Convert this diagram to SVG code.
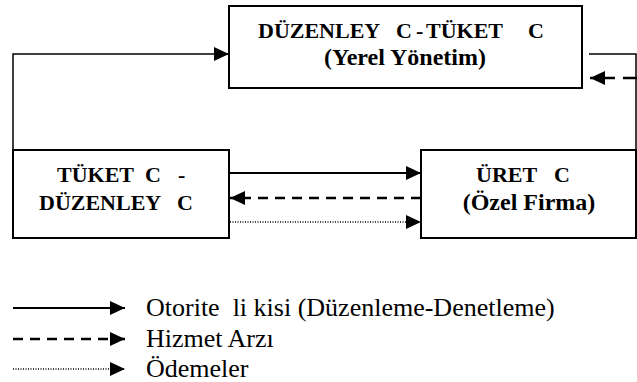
<svg xmlns="http://www.w3.org/2000/svg" width="637" height="382" viewBox="0 0 637 382">
<style>
.box{fill:#fff;stroke:#000;stroke-width:2}
.ln{fill:none;stroke:#000}
.solid{stroke-width:2}
.thin{stroke-width:1.5}
.dash{stroke-width:2.5;stroke-dasharray:10 7}
.dot{stroke-width:1.5;stroke-dasharray:1 1.5}
</style>
<defs>
<marker id="ah" markerUnits="userSpaceOnUse" markerWidth="15" markerHeight="14" refX="15" refY="7" orient="auto" viewBox="0 0 15 14">
<path d="M0,0 L15,7 L0,14 z" fill="#000"/>
</marker>
</defs>
<g id="connectors">
<path class="ln thin" d="M13,150 V54 H229" marker-end="url(#ah)"/>
<path class="ln thin" d="M589,54 H636 V150"/>
<path class="ln dash" style="stroke-dasharray:14 8" d="M637,78 H590" marker-end="url(#ah)"/>
<path class="ln solid" d="M230,173 H421" marker-end="url(#ah)"/>
<path class="ln dash" d="M421,198 H230" marker-end="url(#ah)"/>
<path class="ln dot" d="M230,222 H421" marker-end="url(#ah)"/>
</g>
<g id="node-top">
<rect class="box" x="229" y="6" width="353" height="82"/>
<text font-family="'Liberation Serif', 'Times New Roman', serif" font-weight="bold" font-size="22" y="38"><tspan x="258">DÜZENLEY</tspan><tspan x="396">C</tspan><tspan x="416">-</tspan><tspan x="426">TÜKET</tspan><tspan x="528">C</tspan></text>
<text font-family="'Liberation Serif', 'Times New Roman', serif" font-weight="bold" font-size="24" x="405" y="65" text-anchor="middle">(Yerel Yönetim)</text>
</g>
<g id="node-left">
<rect class="box" x="13" y="150" width="216" height="88"/>
<text font-family="'Liberation Serif', 'Times New Roman', serif" font-weight="bold" font-size="22" y="182"><tspan x="57">TÜKET</tspan><tspan x="145">C</tspan><tspan x="178">-</tspan></text>
<text font-family="'Liberation Serif', 'Times New Roman', serif" font-weight="bold" font-size="22" y="210"><tspan x="39">DÜZENLEY</tspan><tspan x="177">C</tspan></text>
</g>
<g id="node-right">
<rect class="box" x="421" y="150" width="215" height="88"/>
<text font-family="'Liberation Serif', 'Times New Roman', serif" font-weight="bold" font-size="22" y="182"><tspan x="476">ÜRET</tspan><tspan x="554">C</tspan></text>
<text font-family="'Liberation Serif', 'Times New Roman', serif" font-weight="bold" font-size="24" x="529" y="210" text-anchor="middle">(Özel Firma)</text>
</g>
<g id="legend">
<path class="ln solid" d="M13,308 H125" marker-end="url(#ah)"/>
<path class="ln dash" d="M13,339 H125" marker-end="url(#ah)"/>
<path class="ln dot" d="M13,369 H125" marker-end="url(#ah)"/>
<text font-family="'Liberation Serif', 'Times New Roman', serif" font-size="26" x="146" y="316" xml:space="preserve">Otorite  li kisi (Düzenleme-Denetleme)</text>
<text font-family="'Liberation Serif', 'Times New Roman', serif" font-size="26" x="146" y="347">Hizmet Arzı</text>
<text font-family="'Liberation Serif', 'Times New Roman', serif" font-size="26" x="146" y="377">Ödemeler</text>
</g>
</svg>
